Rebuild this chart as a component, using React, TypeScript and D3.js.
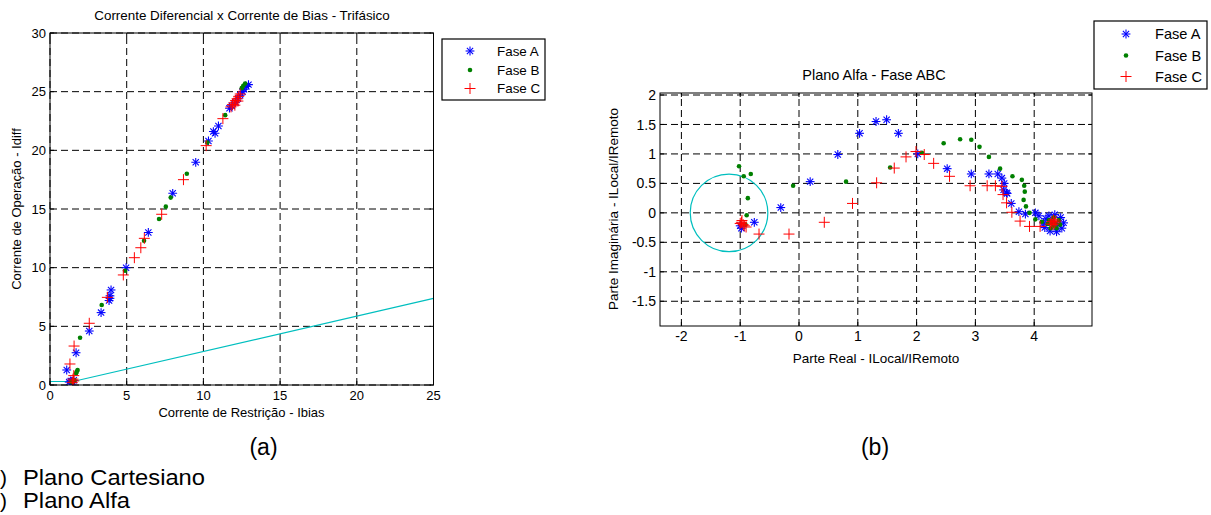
import React from 'react';
import * as d3 from 'd3';

// (a) Plano cartesiano: [Ibias, Idiff]
const cartFaseA: number[][] = [
  [1.25, 0.25], [1.35, 0.35], [1.45, 0.3], [1.55, 0.4], [1.4, 0.2], [1.09, 1.28], [1.7, 2.75],
  [2.56, 4.6], [3.33, 6.17], [3.91, 7.39], [3.91, 7.6], [3.98, 8.1], [3.85, 7.2], [4.96, 10.0],
  [6.41, 13.0], [8.0, 16.34], [9.5, 18.98], [10.33, 20.8], [10.65, 21.6], [10.76, 21.45],
  [10.98, 22.08], [11.7, 23.59], [11.85, 23.8], [12.1, 24.1], [12.25, 24.4], [12.4, 24.7],
  [12.55, 25.0], [12.65, 25.2], [12.8, 25.45], [12.94, 25.6]
];
const cartFaseB: number[][] = [
  [1.4, 0.25], [1.5, 0.3], [1.6, 0.4], [1.7, 1.0], [1.8, 1.28], [1.75, 1.15], [1.96, 4.03],
  [3.37, 6.82], [4.89, 9.74], [6.13, 12.3], [7.11, 14.15], [7.55, 15.2], [7.87, 15.97],
  [8.92, 18.0], [10.26, 20.66], [11.42, 23.0], [12.5, 25.3], [12.6, 25.5], [12.72, 25.7]
];
const cartFaseC: number[][] = [
  [1.45, 0.2], [1.55, 0.35], [1.5, 0.5], [1.55, 0.8], [1.3, 1.79], [1.57, 3.32], [2.56, 5.26],
  [3.74, 7.47], [4.78, 9.38], [5.5, 10.85], [5.92, 11.7], [6.15, 12.5], [7.28, 14.55],
  [8.7, 17.5], [10.18, 20.4], [11.27, 22.7], [11.8, 23.7], [11.9, 23.9], [12.0, 24.05],
  [12.1, 24.25], [12.2, 24.4], [12.3, 24.6], [12.4, 24.8], [12.05, 23.85], [12.25, 24.2]
];
// characteristic curve (pickup + slope)
const cartCurve: number[][] = [[0, 0.3], [1.5, 0.3], [25, 7.38]];
const cartXTicks = [0, 5, 10, 15, 20, 25];
const cartYTicks = [0, 5, 10, 15, 20, 25, 30];

// (b) Plano alfa: [real, imag]
const alfaFaseA: number[][] = [
  [-1.0, -0.22], [-0.98, -0.26], [-0.76, -0.16], [-0.31, 0.09], [0.19, 0.53], [0.66, 0.99],
  [1.03, 1.35], [1.31, 1.55], [1.49, 1.58], [1.69, 1.35], [2.02, 1.0], [2.52, 0.75],
  [2.93, 0.66], [3.23, 0.66], [3.38, 0.66], [3.45, 0.59], [3.49, 0.5], [3.53, 0.34],
  [3.48, 0.39], [3.54, 0.33], [3.61, 0.16], [3.74, 0.02], [3.85, -0.02], [4.02, 0.0],
  [4.08, -0.05], [4.2, -0.1], [4.25, -0.05], [4.35, -0.03], [4.45, -0.08], [4.5, -0.17],
  [4.47, -0.26], [4.38, -0.32], [4.27, -0.31], [4.18, -0.25], [4.16, -0.17], [4.3, -0.17],
  [4.4, -0.2]
];
const alfaFaseB: number[][] = [
  [-1.02, 0.79], [-0.94, 0.62], [-0.82, 0.66], [-0.87, 0.25], [-0.89, -0.04], [-0.91, -0.2],
  [-0.1, 0.46], [0.8, 0.53], [1.55, 0.77], [2.09, 1.02], [2.46, 1.18], [2.74, 1.25],
  [2.93, 1.24], [3.07, 1.12], [3.23, 0.95], [3.42, 0.75], [3.63, 0.62], [3.79, 0.56],
  [3.83, 0.46], [3.84, 0.36], [3.82, 0.22], [3.86, 0.11], [3.92, 0.0], [4.02, -0.11],
  [4.13, -0.15], [4.25, -0.12], [4.33, -0.08], [4.42, -0.12], [4.44, -0.2], [4.38, -0.26],
  [4.28, -0.26], [4.23, -0.19], [4.3, -0.15], [4.36, -0.18], [4.33, -0.22]
];
const alfaFaseC: number[][] = [
  [-0.98, -0.16], [-0.95, -0.2], [-0.97, -0.13], [-0.93, -0.22], [-1.0, -0.18], [-0.9, -0.24],
  [-0.68, -0.36], [-0.17, -0.36], [0.43, -0.16], [0.91, 0.16], [1.32, 0.51], [1.62, 0.76],
  [1.82, 0.95], [1.99, 1.04], [2.13, 0.99], [2.29, 0.84], [2.56, 0.62], [2.91, 0.46],
  [3.2, 0.46], [3.34, 0.46], [3.45, 0.45], [3.47, 0.31], [3.53, 0.17], [3.62, 0.01],
  [3.76, -0.14], [3.92, -0.23], [4.1, -0.23], [4.3, -0.15], [4.35, -0.17], [4.32, -0.2],
  [4.37, -0.14], [4.28, -0.19], [4.33, -0.12]
];
const alfaCircleCenter = [-1.19, 0];
const alfaCircleRadius = 0.66;
const alfaXTicks = [-2, -1, 0, 1, 2, 3, 4];
const alfaYTicks = [-1.5, -1, -0.5, 0, 0.5, 1, 1.5, 2];

const legendLabels = ['Fase A', 'Fase B', 'Fase C'];
const captionItems = ['Plano Cartesiano', 'Plano Alfa'];
const captionWidths = [182, 107];

const FONT = 'Arial, "Liberation Sans", sans-serif';
const BLUE = '#0000ff', GREEN = '#008000', RED = '#ff0000', CYAN = '#00bfbf';

function Star({ x, y }: { x: number; y: number }) {
  const r = 4.4, d = 3.1;
  return (
    <g stroke={BLUE} strokeWidth={1.1}>
      <line x1={x - r} y1={y} x2={x + r} y2={y} />
      <line x1={x} y1={y - r} x2={x} y2={y + r} />
      <line x1={x - d} y1={y - d} x2={x + d} y2={y + d} />
      <line x1={x - d} y1={y + d} x2={x + d} y2={y - d} />
    </g>
  );
}

function Plus({ x, y }: { x: number; y: number }) {
  const r = 5.5;
  return (
    <g stroke={RED} strokeWidth={1}>
      <line x1={x - r} y1={y} x2={x + r} y2={y} />
      <line x1={x} y1={y - r} x2={x} y2={y + r} />
    </g>
  );
}

function Dot({ x, y }: { x: number; y: number }) {
  return <circle cx={x} cy={y} r={2.3} fill={GREEN} />;
}

function Axes(props: any) {
  const { x, y, xTicks, yTicks, xFmt, yFmt, tickFont, children } = props;
  const [x0, x1] = x.range();
  const [y0, y1] = y.range();
  const grid = { stroke: '#000', strokeWidth: 1, strokeDasharray: '7,4' };
  const tl = 4;
  return (
    <g>
      {xTicks.map((t: number, i: number) => (
        <line key={'gx' + i} {...grid} x1={x(t)} x2={x(t)} y1={y0} y2={y1} />
      ))}
      {yTicks.map((t: number, i: number) => (
        <line key={'gy' + i} {...grid} x1={x0} x2={x1} y1={y(t)} y2={y(t)} />
      ))}
      {children}
      <rect x={x0} y={y1} width={x1 - x0} height={y0 - y1} fill="none" stroke="#000" strokeWidth={1} />
      {xTicks.map((t: number, i: number) => (
        <g key={'tx' + i}>
          <line x1={x(t)} x2={x(t)} y1={y0} y2={y0 - tl} stroke="#000" />
          <line x1={x(t)} x2={x(t)} y1={y1} y2={y1 + tl} stroke="#000" />
          <text x={x(t)} y={y0 + 15} textAnchor="middle" fontSize={tickFont} fontFamily={FONT}>{xFmt(t)}</text>
        </g>
      ))}
      {yTicks.map((t: number, i: number) => (
        <g key={'ty' + i}>
          <line x1={x0} x2={x0 + tl} y1={y(t)} y2={y(t)} stroke="#000" />
          <line x1={x1} x2={x1 - tl} y1={y(t)} y2={y(t)} stroke="#000" />
          <text x={x0 - 4} y={y(t) + tickFont * 0.36} textAnchor="end" fontSize={tickFont} fontFamily={FONT}>{yFmt(t)}</text>
        </g>
      ))}
    </g>
  );
}

function Legend({ x, y, w, h, mx, tx, rows, fontSize }: any) {
  const marks = [Star, Dot, Plus];
  return (
    <g>
      <rect x={x} y={y} width={w} height={h} fill="#fff" stroke="#000" strokeWidth={1.2} />
      {legendLabels.map((lab, i) => {
        const M = marks[i];
        return (
          <g key={lab}>
            <M x={mx} y={rows[i]} />
            <text x={tx} y={rows[i] + fontSize * 0.36} fontSize={fontSize} fontFamily={FONT}>{lab}</text>
          </g>
        );
      })}
    </g>
  );
}

function Series({ data, x, y }: any) {
  return (
    <g>
      {marks(data.a, Star, x, y)}
      {marks(data.b, Dot, x, y)}
      {marks(data.c, Plus, x, y)}
    </g>
  );
}

function marks(pts: number[][], M: any, x: any, y: any) {
  return pts.map((d, i) => <M key={i} x={x(d[0])} y={y(d[1])} />);
}

export default function App() {
  // left chart
  const xa = d3.scaleLinear().domain([0, 25]).range([50, 433.5]);
  const ya = d3.scaleLinear().domain([0, 30]).range([385, 33]);
  const curve = d3.line<number[]>().x(d => xa(d[0])).y(d => ya(d[1]))(cartCurve) || '';

  // right chart
  const xb = d3.scaleLinear().domain([-2.364, 4.983]).range([660, 1092]);
  const yb = d3.scaleLinear().domain([-1.92, 2.034]).range([326, 93]);
  const fmtB = (v: number) => String(v);

  return (
    <svg width={1211} height={515} style={{ position: 'absolute', left: 0, top: 0, background: '#fff' }}>
      <rect width={1211} height={515} fill="#fff" />
      <defs>
        <clipPath id="clipA"><rect x={50} y={33} width={383.5} height={352} /></clipPath>
        <clipPath id="clipB"><rect x={660} y={93} width={432} height={233} /></clipPath>
      </defs>

      {/* (a) */}
      <text x={242} y={20} textAnchor="middle" fontSize={13.4} fontFamily={FONT}>
        Corrente Diferencial x Corrente de Bias - Trifásico
      </text>
      <Axes x={xa} y={ya} xTicks={cartXTicks} yTicks={cartYTicks} xFmt={String} yFmt={String} tickFont={13}>
        <g clipPath="url(#clipA)">
          <path d={curve} fill="none" stroke={CYAN} strokeWidth={1.2} />
          <Series data={{ a: cartFaseA, b: cartFaseB, c: cartFaseC }} x={xa} y={ya} />
        </g>
      </Axes>
      <text x={241.5} y={417} textAnchor="middle" fontSize={13} fontFamily={FONT}>Corrente de Restrição - Ibias</text>
      <text transform="translate(20.5,209) rotate(-90)" textAnchor="middle" fontSize={13} fontFamily={FONT}>
        Corrente de Operação - Idiff
      </text>
      <Legend x={442} y={39} w={103} h={61} mx={470} tx={497} rows={[51, 70, 88.5]} fontSize={13.4} />

      {/* (b) */}
      <text x={874} y={80} textAnchor="middle" fontSize={14.5} fontFamily={FONT}>Plano Alfa - Fase ABC</text>
      <Axes x={xb} y={yb} xTicks={alfaXTicks} yTicks={alfaYTicks} xFmt={fmtB} yFmt={fmtB} tickFont={14}>
        <g clipPath="url(#clipB)">
          <circle cx={xb(alfaCircleCenter[0])} cy={yb(alfaCircleCenter[1])}
            r={xb(alfaCircleRadius) - xb(0)} fill="none" stroke={CYAN} strokeWidth={1.2} />
          <Series data={{ a: alfaFaseA, b: alfaFaseB, c: alfaFaseC }} x={xb} y={yb} />
        </g>
      </Axes>
      <text x={876} y={363} textAnchor="middle" fontSize={13.5} fontFamily={FONT}>Parte Real - ILocal/IRemoto</text>
      <text transform="translate(618,209) rotate(-90)" textAnchor="middle" fontSize={13.5} fontFamily={FONT}>
        Parte Imaginária - ILocal/IRemoto
      </text>
      <Legend x={1094} y={21} w={113} h={68} mx={1126} tx={1155} rows={[34, 55.5, 76.5]} fontSize={14.6} />

      {/* captions */}
      <text x={263.5} y={455} textAnchor="middle" fontSize={23} fontFamily={FONT}>(a)</text>
      <text x={875} y={455} textAnchor="middle" fontSize={23} fontFamily={FONT}>(b)</text>
      {captionItems.map((c, i) => (
        <g key={c}>
          <text x={0} y={485 + i * 22.5} fontSize={21} fontFamily={FONT}>)</text>
          <text x={23} y={485 + i * 22.5} fontSize={21.5} fontFamily={FONT} textLength={captionWidths[i]}
            lengthAdjust="spacingAndGlyphs">{c}</text>
        </g>
      ))}
    </svg>
  );
}
